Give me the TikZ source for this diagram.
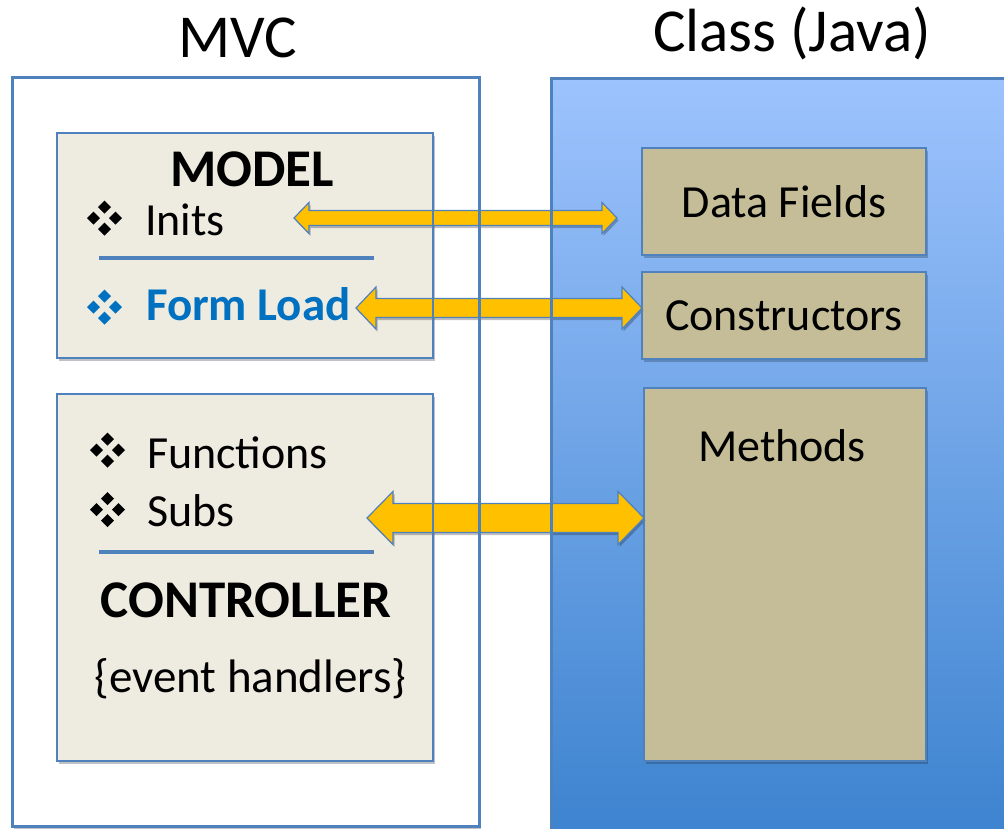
\documentclass[tikz,border=0pt]{standalone}
\usepackage{fontspec}
\setmainfont{Carlito}
\usetikzlibrary{calc,shadows}

\definecolor{frame}{RGB}{79,129,189}
\definecolor{paper}{RGB}{238,236,225}
\definecolor{tan}{RGB}{196,189,151}
\definecolor{gold}{RGB}{255,192,0}
\definecolor{formblue}{RGB}{0,112,192}
\definecolor{skytop}{RGB}{157,195,253}
\definecolor{skybot}{RGB}{61,131,207}

\tikzset{
  every node/.style={inner sep=0pt, outer sep=0pt},
  softshadow/.style={drop shadow={shadow xshift=2pt, shadow yshift=-3pt, opacity=0.28, fill=black!70!frame}},
  whitebox/.style={rectangle, fill=white, softshadow},
  panel/.style={rectangle, fill=paper, softshadow},
  tanbox/.style={rectangle, fill=tan, softshadow, font=\fontsize{46}{52}\selectfont},
  skybox/.style={rectangle, top color=skytop, bottom color=skybot},
  outline/.style={draw=frame, line width=2pt},
  thickoutline/.style={draw=frame, line width=3pt},
  sepline/.style={draw=frame, line width=4pt},
  title/.style={font=\fontsize{61}{70}\selectfont},
  itemtext/.style={font=\fontsize{46}{52}\selectfont},
  headtext/.style={font=\fontsize{53}{60}\selectfont\bfseries},
  twoway/.style={fill=gold, draw=frame, line width=1.2pt, line join=miter,
    drop shadow={shadow xshift=1.5pt, shadow yshift=-2.5pt, opacity=0.25, fill=black}},
  bullet/.pic={
    \foreach \dx/\dy in {0/-11,0/11,-11/0,11/0}
      \path[pic actions] (\dx-6.5,\dy) -- ++(6.5,6.5) -- ++(6.5,-6.5) -- ++(-6.5,-6.5) -- cycle;
  },
}

% double-headed block arrow between two points at the height of the first:
% #1 left tip, #2 right tip, #3 half shaft, #4 half head, #5 head length
\newcommand\twowayarrow[5]{%
  \path[twoway] let \p1=(#1), \p2=(#2) in
    (\x1,\y1) -- (\x1+#5pt,\y1+#4pt) -- (\x1+#5pt,\y1+#3pt) -- (\x2-#5pt,\y1+#3pt)
    -- (\x2-#5pt,\y1+#4pt) -- (\x2,\y1) -- (\x2-#5pt,\y1-#4pt) -- (\x2-#5pt,\y1-#3pt)
    -- (\x1+#5pt,\y1-#3pt) -- (\x1+#5pt,\y1-#4pt) -- cycle;}

\begin{document}
\begin{tikzpicture}[x=1pt, y=-1pt]
  \useasboundingbox (0,0) rectangle (1004,828);
  \clip (0,0) rectangle (1004,828);

  % titles
  \node[title, anchor=base] (mvctitle) at (238,57) {MVC};
  \node[title, anchor=base] (classtitle) at (792,51) {Class (Java)};

  % container fills
  \node[whitebox, minimum width=467pt, minimum height=749pt] (mvc) at (245.5,451.5) {};
  \node[skybox, minimum width=461pt, minimum height=758pt] (cls) at (781.5,457) {};

  % panels on the MVC side
  \node[panel, minimum width=376pt, minimum height=225pt] (model) at (245,245.5) {};
  \node[panel, minimum width=376pt, minimum height=367pt] (ctrl) at (245,577.5) {};

  % class members
  \node[tanbox, minimum width=284pt, minimum height=107pt] (fields) at (784,201.5) {Data Fields};
  \node[tanbox, minimum width=284pt, minimum height=87pt] (ctor) at (784,315.5) {Constructors};
  \node[tanbox, minimum width=282pt, minimum height=373pt] (meth) at (785,574.5) {};
  \node[itemtext, anchor=base] (methlabel) at (782,461) {Methods};

  % model panel contents
  \node[headtext, anchor=base] (modelhead) at (252,186) {MODEL};
  \pic[fill=black] at (104.5,218) {bullet};
  \node[itemtext, anchor=base west] (inits) at (145,235) {Inits};
  \draw[sepline] (99,258) -- (374,258);
  \pic[fill=formblue] at (104.5,307) {bullet};
  \node[itemtext, anchor=base west, text=formblue, font=\fontsize{47}{52}\selectfont\bfseries] (formload) at (146,320) {Form Load};

  % controller panel contents
  \pic[fill=black] at (107.5,450) {bullet};
  \node[itemtext, anchor=base west] (funcs) at (147,468) {Functions};
  \pic[fill=black] at (107.5,509.5) {bullet};
  \node[itemtext, anchor=base west] (subs) at (147,526) {Subs};
  \draw[sepline] (99,552) -- (374,552);
  \node[headtext, anchor=base] (ctrlhead) at (246,617) {CONTROLLER};
  \node[itemtext, anchor=base, font=\fontsize{47}{52}\selectfont] (events) at (250.5,692) {\{event handlers\}};

  % arrow ends
  \coordinate (initsend) at (294,218);
  \coordinate (fieldsend) at (617,218);
  \coordinate (formend) at (356,308);
  \coordinate (subsend) at (367,518);

  % links between the two sides
  \twowayarrow{initsend}{fieldsend}{7.5}{15.5}{15}
  \twowayarrow{formend}{ctor.west}{9.5}{21}{20}
  \twowayarrow{subsend}{meth.west}{14.5}{26.5}{26}

  % outlines on top
  \draw[thickoutline] (mvc.south west) rectangle (mvc.north east);
  \draw[thickoutline] (cls.south west) rectangle (cls.north east);
  \draw[outline] (model.south west) rectangle (model.north east);
  \draw[outline] (ctrl.south west) rectangle (ctrl.north east);
  \draw[outline] (fields.south west) rectangle (fields.north east);
  \draw[outline] (ctor.south west) rectangle (ctor.north east);
  \draw[outline] (meth.south west) rectangle (meth.north east);
\end{tikzpicture}
\end{document}
